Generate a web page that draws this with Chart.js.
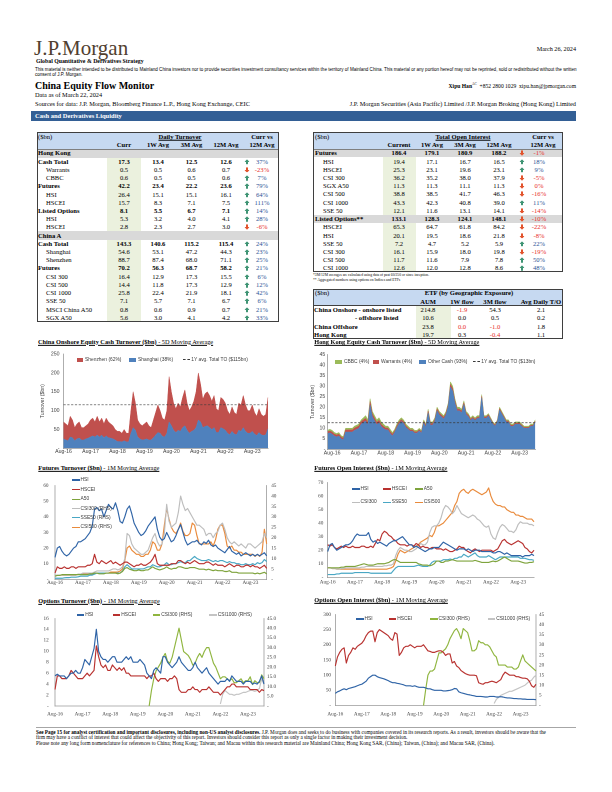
<!DOCTYPE html>
<html><head><meta charset="utf-8">
<script src="https://cdn.jsdelivr.net/npm/chart.js@4.4.1/dist/chart.umd.min.js"></script>
<style>
html,body{margin:0;padding:0;background:#fff}
body{width:612px;height:792px;position:relative;overflow:hidden;font-family:"Liberation Serif","Times New Roman",serif;color:#000}
.a{position:absolute;white-space:nowrap;line-height:1}
.r{position:absolute;box-sizing:border-box}
.sans{font-family:"Liberation Sans",Arial,sans-serif}
</style></head><body>
<script>
// ---------------- categories ----------------
const monthNames=['Jan','Feb','Mar','Apr','May','Jun','Jul','Aug','Sep','Oct','Nov','Dec'];
function monthLabels(startMonth,startYear,count){const out=[];for(let i=0;i<count;i++){const m=(startMonth+i)%12,y=startYear+Math.floor((startMonth+i)/12);out.push(monthNames[m]+'-'+String(y).padStart(2,'0'));}return out;}
const months=monthLabels(7,16,92);     // Aug-16 .. Mar-24
const hkMonths=monthLabels(5,16,94);   // Jun-16 .. Mar-24

// ---------------- table data ----------------
const turnLabels=['Hong Kong','Cash Total','Warrants','CBBC','Futures','HSI','HSCEI','Listed Options','HSI','HSCEI','China A','Cash Total','Shanghai','Shenzhen','Futures','CSI 300','CSI 500','CSI 1000','SSE 50','MSCI China A50','SGX A50'];
const turnKind=['s','b','i','i','b','i','i','b','i','i','s','b','i','i','b','i','i','i','i','i','i'];
const turnCurr=[null,17.3,0.5,0.6,42.2,26.4,15.7,8.1,5.3,2.8,null,143.3,54.6,88.7,70.2,16.4,14.4,25.8,7.1,0.8,5.6];
const turn1W=[null,13.4,0.5,0.5,23.4,15.1,8.3,5.5,3.2,2.3,null,140.6,53.1,87.4,56.3,12.9,11.8,22.4,5.7,0.6,3.0];
const turn3M=[null,12.5,0.6,0.5,22.2,15.1,7.1,6.7,4.0,2.7,null,115.2,47.2,68.0,68.7,17.3,17.3,21.9,7.1,0.9,4.1];
const turn12M=[null,12.6,0.7,0.6,23.6,16.1,7.5,7.1,4.1,3.0,null,115.4,44.3,71.1,58.2,15.5,12.9,18.1,6.7,0.7,4.2];
const turnChg=[null,37,-23,7,79,64,111,14,28,-6,null,24,23,25,21,6,12,42,6,21,33];

const oiLabels=['Futures','HSI','HSCEI','CSI 300','SGX A50','CSI 500','CSI 1000','SSE 50','Listed Options**','HSCEI','HSI','SSE 50','CSI 300','CSI 500','CSI 1000'];
const oiKind=['s','i','i','i','i','i','i','i','s','i','i','i','i','i','i'];
const oiCurr=[186.4,19.4,25.3,36.2,11.3,38.8,43.3,12.1,133.1,65.3,20.1,7.2,16.1,11.7,12.6];
const oi1W=[179.1,17.1,23.1,35.2,11.3,38.5,42.3,11.6,128.3,64.7,19.5,4.7,15.9,11.6,12.0];
const oi3M=[180.9,16.7,19.6,38.0,11.1,41.7,40.8,13.1,124.1,61.8,18.6,5.2,18.0,7.9,12.8];
const oi12M=[188.2,16.5,23.1,37.9,11.3,46.3,39.0,14.1,148.1,84.2,21.8,5.9,19.8,7.8,8.6];
const oiChg=[-1,18,9,-5,-0.2,-16,11,-14,-10,-22,-8,22,-19,50,48];

const etfLabels=['China Onshore - onshore listed','- offshore listed','China Offshore','Hong Kong'];
const etfAUM=[214.8,10.6,23.8,19.7];
const etf1W=[-1.9,0.0,-0.02,0.3];
const etf3M=[54.3,0.5,-1.0,-0.4];
const etfTO=[2.1,0.2,1.8,1.1];

// ---------------- chart data ----------------
const cnAvgTO=115.4, hkAvgTO=12.6;
const cnShanghai=[25,22,20,30,28,20,25,27,22,22,25,27,
30,33,30,35,30,35,28,33,28,27,25,22,
18,18,17,20,17,17,40,55,48,30,25,22,
23,25,22,22,28,35,42,40,32,30,40,70,
60,48,42,48,45,55,60,48,40,45,48,55,
75,70,55,58,60,55,50,55,42,42,55,52,
48,40,36,45,38,36,48,45,55,45,40,40,
45,38,34,42,36,34,36,52];
const cnShenzhen=[45,43,40,55,47,35,40,43,33,33,35,38,
45,47,40,50,40,45,37,47,42,38,35,28,
27,27,23,30,23,23,60,95,72,45,40,38,
42,45,38,33,47,60,73,60,48,45,60,120,
90,72,63,72,65,80,95,72,60,65,77,95,
125,100,75,87,90,85,75,85,63,58,80,78,
72,60,54,65,57,54,72,70,85,70,60,60,
70,57,51,63,54,51,54,83];

const hkOther=[7.5,7.8,
7.2,6.3,5.9,6.3,5.0,4.5,8.2,8.2,8.2,8.2,9.0,9.5,
10.0,12.0,12.8,13.4,11.5,21.0,15.5,13.5,11.7,12.7,10.8,9.9,
9.2,9.2,7.5,6.4,8.0,10.3,12.2,13.2,12.3,10.4,9.5,8.6,
8.6,7.7,7.7,8.7,7.7,12.5,10.6,17.3,11.4,11.5,13.4,18.3,
16.3,15.4,14.4,16.4,20.2,29.6,27.6,21.9,18.2,18.3,17.3,21.3,
16.5,15.6,13.7,14.7,13.7,14.7,14.7,24.4,14.7,14.8,15.8,13.9,
12.0,11.0,13.0,18.6,16.7,14.8,12.9,12.9,10.9,10.9,11.9,11.9,
11.9,10.9,10.0,10.0,10.0,11.0,11.0,12.9];
const hkWarrants=[0.9,0.9,
1.0,0.9,0.9,0.9,0.8,0.8,1.0,1.0,1.0,1.0,1.1,1.1,
1.1,1.2,1.2,1.3,1.2,1.6,1.3,1.2,1.1,1.1,1.0,1.0,
0.9,0.9,0.9,0.8,0.7,0.8,0.9,0.9,0.8,0.7,0.7,0.6,
0.6,0.6,0.6,0.6,0.6,0.7,0.7,0.9,0.8,0.7,0.8,0.9,
0.9,0.8,0.8,0.8,0.9,1.2,1.2,1.0,0.9,0.8,0.8,0.8,
0.7,0.7,0.6,0.6,0.6,0.6,0.6,0.8,0.6,0.6,0.6,0.5,
0.5,0.5,0.5,0.7,0.6,0.6,0.5,0.5,0.5,0.5,0.5,0.5,
0.5,0.5,0.4,0.4,0.4,0.4,0.4,0.5];
const hkCBBC=[0.7,0.8,
0.8,0.8,0.7,0.8,0.7,0.7,0.8,0.8,0.8,0.8,0.9,0.9,
0.9,0.8,1.0,1.3,1.3,1.4,1.2,1.3,1.2,1.2,1.2,1.1,
0.9,0.9,1.1,0.8,0.8,0.9,0.9,0.9,0.9,0.9,0.8,0.8,
0.8,0.7,0.7,0.7,0.7,0.8,0.7,0.8,0.8,0.8,0.8,0.8,
0.8,0.8,0.8,0.8,0.9,1.2,1.2,1.1,0.9,0.9,0.9,0.9,
0.8,0.7,0.7,0.7,0.7,0.7,0.7,0.8,0.7,0.6,0.6,0.6,
0.5,0.5,0.5,0.7,0.7,0.6,0.6,0.6,0.6,0.6,0.6,0.6,
0.6,0.6,0.6,0.6,0.6,0.6,0.6,0.6];

const ftHSI=[14,20,21,18,16,15,16,18,20,21,24,24,
25,26,28,30,34,45,46,44,45,40,44,48,
46,45,49,44,37,36,40,45,47,42,36,33,
30,28,29,31,34,36,38,40,32,27,25,26,
30,27,24,25,28,32,35,30,25,22,23,24,
24,25,23,22,24,23,25,22,21,22,20,19,
18,17,19,21,18,17,16,17,15,16,17,16,
15,16,15,16,15,16,17,15];
const ftHSCEI=[4,8,7,7,8,7,7,8,8,7,8,8,
8,8,9,9,10,16,11,10,12,11,10,11,
12,10,11,10,9,10,11,11,10,9,8,9,
9,10,9,9,10,11,13,16,10,9,9,9,
9,9,10,10,10,12,12,11,10,11,10,11,
12,11,10,10,10,11,11,10,9,10,9,9,
9,8,9,10,9,8,9,9,8,8,9,9,
8,9,8,8,7,8,9,7];
const ftA50=[2,2.5,2.5,3,3,3,3,3,3,3,3,3,
3,3,3,3.5,3.5,4,4,3.5,3.5,3.5,4,4,
4,4,4,3.5,4,5,7,7.5,6.5,6,5.5,5.5,
6,5.5,5.5,6,6,7,8,7,6.5,6,6.5,7,
8,7,6.5,7,7,8,8,7.5,7,7,7.5,7.5,
7.5,7,6.5,6.5,6.5,6,6.5,6,5.5,6,5.5,5.5,
5.5,5,5,5.5,4.5,4.5,4.5,4,4,4,4,4,
4,4,3.5,4,3.5,4,4.5,3.5];
const ftCSI300=[2,2,2,2,2,2,2,2,2,2,2.5,2.5,
3,3,3,3,3,3.5,4,4,4,4,4,4,
4.5,5,5,4.5,5,6,10,22,21,17,15,14,
13,12,12,13,14,17,20,22,18,16,17,22,
36,28,25,26,27,32,40,36,33,34,32,30,
28,26,26,25,24,21,22,22,20,22,23,26,
27,24,20,18,17,18,17,16,17,16,15,17,
17,16,15,16,17,18,22,20];
const ftSSE50=[0.5,0.5,0.5,0.5,0.7,0.8,0.8,1,1,1,1.2,1.5,
1.5,1.5,1.5,2,2,2.5,3,3,3,3,3,3,
3,3,3,3,3,4,6,7,6,5,5,5,
5,5,5,5.5,6,6,7,6.5,6,6,6.5,7,
8,7,7,7.5,7.5,8,8.5,8,8,9,9,10,
11,10,9.5,9,9,9,9.5,9,8.5,9,8.5,9,
9,8.5,8,8.5,8,8,7.5,7.5,7,7,7.5,7,
7,7.5,7,8,7.5,8,9.5,8.5];
const ftCSI500=[2,2,2,2,2,2,2,2,2,2,2.5,2.5,
2.5,2.5,2.5,2.5,2.5,3,3,3,3,3,3,3,
3.5,3.5,3.5,3.5,4,5,9,15,16,14,13,12,
12,11,11,12,12,14,18,17,14,14,17,26,
34,29,25,23,22,24,27,23,21,21,22,27,
26,21,17,17,17,17,17,18,16,19,24,26,
26,22,16,15,16,14,14,13,13,12,12,12,
12,12,11,12,11,13,24,17];

const foHSI=[19,24,25,22,20,21,22,23,24,24,25,27,
30,32,31,31,31,31,33,28,26,27,25,26,
25,24,23,25,26,27,27,28,29,30,28,26,
24,24,22,23,22,21,20,19,20,21,21,22,
22,22,24,26,25,24,23,22,21,20,21,21,
21,20,21,20,19,20,20,20,19,19,19,19,
19,18,18,19,19,18,17,18,17,16,16,16,
16,16,15,16,16,16,17,16];
const foHSCEI=[24,23,24,22,21,22,23,22,23,22,22,23,
22,22,22,23,23,22,22,23,22,25,28,27,
32,34,33,31,30,28,27,25,24,24,24,23,
24,24,23,25,24,22,23,22,22,21,22,22,
21,21,21,20,21,20,19,19,20,21,23,22,
22,20,19,18,20,21,20,19,20,20,20,20,
20,19,20,21,24,27,28,26,25,24,25,26,
27,26,25,22,21,19,18,20];
const foA50=[7,7,7,7,7,7,7.5,7.5,8,8,8,8,
8,8.5,9,9.5,10,9.5,9,9,9,9.5,10,10,
10,10,10.5,11,12,13,13,12,11,11,11,11,
11,11,11,11,10,9.5,9,9,9,8.5,9,10,
12,12,11,11,12,12,12.5,13,12.5,12,12,12,
12,12,12,12,12,12.5,12,11.5,11,11,11,11,
11.5,12,11.5,12,13,14,15,14,13,12,12,12,
12,11.5,11,10.5,10.5,11,11,11.5];
const foCSI300=[7,7,6.5,6.5,6,6,6.5,6.5,7,7,7,7,
7,7,7,7.5,7.5,8,8,8,8,8,8,8,
8,8.5,8.5,9,9,10,16,20,22,21,20,20,
19,19,20,21,23,25,24,24,26,33,37,38,
38,40,44,50,53,52,50,47,49,53,50,47,
46,45,44,45,46,45,43,42,40,38,37,38,
32,29,28,33,37,39,38,36,34,34,33,35,
39,41,40,40,40,39,39,38];
const foSSE50=[2,2,2,2,2.5,2.5,3,3,3,3,3,3,
3.5,3.5,3.5,3.5,3.5,3.5,3.5,3,3,3,3,3,
3,3,3,3,3,5,7,8,8,8,8,8,
8,8,8,8.5,9,8.5,8,8,8,9,11,12,
12,12,12,13,13,13,13.5,13,14,14,15,15,
17,16,15,16,17,18,16,15,15,15,15,16,
15,14,13,14,15,15,15,15,15,15,15,15,
15,14,14,14,13.5,13,13,12.5];
const foCSI500=[7,7,6.5,6.5,6,6,6,6,6,6,6,6,
6,6,6,6,6,6,6,6,6,6,6,6,
6,6,6,6.5,7,8,12,17,20,19,18,19,
20,21,22,23,24,26,27,28,29,31,30,33,
38,38,39,40,42,44,46,48,53,56,62,64,
65,63,62,64,65,64,63,62,61,62,63,66,
60,56,54,53,53,52,52,50,49,48,48,46,
46,45,45,44,43,43,43,41];

const otHSI=[5.5,5.8,5.5,5.5,5.5,5.0,5.5,6,6,6.5,6,6,
7,8.5,8,7.5,9,10.5,14,10,9,8.5,8.5,8,
8.5,9,9,8,8,8,8.5,9,8.5,9,8,8,
8,8.5,8,7.5,6,5.5,5,6.5,7,6.5,6,9,
9,8,7.5,7,7.5,8,9,8,7.5,7,6.5,6.5,
7,8,7,6.5,6,6.5,7,6,5.5,5,4.5,4,
4.5,4.5,4.5,5,4.5,5.5,5,4.5,4.5,4.5,4,4.5,
4.5,4.5,4,4.2,4,4.5,5.5,4];
const otHSCEI=[3,5.5,5.5,5,5,5,5.5,6.5,6,5.5,5,5,
5,5.5,6,5.5,6,6.5,11,9,7.5,7,7.5,6.5,
6.5,7.5,7,6.5,7,6.5,7,6,6,5.5,5.5,5.5,
5.5,5.5,5.5,5.5,5,5.5,5.5,6,5,4.5,5,5,
5,4.5,5,5,5.5,5,3,2.5,2.5,2.5,3,3,
3.5,3,3,2.5,3,3,3,3.5,3,2.5,2.5,2.5,
2,2.5,3,3.5,3.5,4,4,3.5,3.5,3.5,3.5,3.5,
3.5,3,3,3,3,2.5,3,2.8];
const otCSI300=[null,null,null,null,null,null,null,null,null,null,null,null,
null,null,null,null,null,null,null,null,null,null,null,null,
null,null,null,null,null,null,null,null,null,null,null,null,
null,null,null,null,null,0,8,14,18,20,22,25,
27,23,22,25,30,35,40,34,28,27,26,24,
21,22,25,27,25,28,30,30,26,22,20,17,
14,15,15,14,13,14,12,12,13,14,12,13,
13,15,11,13,12,12,16,14];
const otCSI1000=[null,null,null,null,null,null,null,null,null,null,null,null,
null,null,null,null,null,null,null,null,null,null,null,null,
null,null,null,null,null,null,null,null,null,null,null,null,
null,null,null,null,null,null,null,null,null,null,null,null,
null,null,null,null,null,null,null,null,null,null,null,null,
null,null,null,null,null,null,null,null,null,null,null,null,
1,6,8,7,6,6,5.5,6,6,6.5,7,7,
7.5,8,8,7.5,8,9,14,11];

const ooHSI=[40,45,48,52,55,52,56,58,60,62,65,68,
70,75,80,90,95,100,100,95,92,90,88,85,
82,78,75,75,73,72,70,68,65,65,65,63,
65,62,60,60,60,58,55,55,52,50,50,50,
50,48,48,49,50,52,56,55,45,42,40,38,
36,35,33,32,30,30,30,29,28,28,30,30,
30,28,28,29,28,26,25,25,24,23,23,22,
22,21,21,20,20,20,20,19];
const ooHSCEI=[130,160,175,185,190,140,165,175,190,185,195,200,
205,215,230,240,245,245,210,240,250,245,240,235,
230,220,215,240,235,165,175,190,195,195,200,195,
190,195,195,195,200,190,180,178,175,175,178,180,
180,175,165,170,170,140,145,130,125,115,110,105,
102,100,100,100,98,75,72,70,75,75,78,80,
78,75,80,85,100,110,105,100,100,100,95,95,
92,90,90,88,80,65,60,70];
const ooCSI300=[null,null,null,null,null,null,null,null,null,null,null,null,
null,null,null,null,null,null,null,null,null,null,null,null,
null,null,null,null,null,null,null,null,null,null,null,null,
null,null,null,null,0,8,15,17,17,18,22,26,
26,27,28,30,33,35,37,38,36,33,38,37,
36,32,27,27,28,32,31,31,30,30,29,27,
25,24,20,20,20,20,19,19,19,18,18,19,
22,25,22,21,20,19,18,17];
const ooCSI1000=[null,null,null,null,null,null,null,null,null,null,null,null,
null,null,null,null,null,null,null,null,null,null,null,null,
null,null,null,null,null,null,null,null,null,null,null,null,
null,null,null,null,null,null,null,null,null,null,null,null,
null,null,null,null,null,null,null,null,null,null,null,null,
null,null,null,null,null,null,null,null,null,null,null,null,
1,3,4,5,5.5,6,6.5,7,7,7.5,8,8.5,
9,9.5,10,11,12,12.5,14,15];

// ---------------- helpers ----------------
function put(html,x,y,size,o={}){const d=document.createElement('div');d.className='a'+(o.sans?' sans':'');d.innerHTML=html;
 d.style.left=x+'px';d.style.top=y+'px';d.style.fontSize=size+'px';
 if(o.bold)d.style.fontWeight='bold';if(o.color)d.style.color=o.color;if(o.u)d.style.textDecoration='underline';
 const tx=o.al==='c'?'-50%':o.al==='r'?'-100%':'0';d.style.transform=`translate(${tx},-50%)`;
 document.body.appendChild(d);return d;}
function rect(x,y,w,h,bg,border){const d=document.createElement('div');d.className='r';
 Object.assign(d.style,{left:x+'px',top:y+'px',width:w+'px',height:h+'px',background:bg||'transparent'});
 if(border)d.style.border=border;document.body.appendChild(d);return d;}
function hline(x1,x2,y,c,w){rect(x1,y-w/2,x2-x1,w,c);}
function fit(el,target){const w=el.getBoundingClientRect().width;const fs=parseFloat(el.style.fontSize)*target/w;el.style.fontSize=fs+'px';return fs;}
function arrow(up){const col=up?'#3f9474':'#e2532c';
 const pts=up?'2.6,0 5.2,2.8 3.6,2.8 3.6,5.6 1.6,5.6 1.6,2.8 0,2.8':'2.6,5.6 5.2,2.8 3.6,2.8 3.6,0 1.6,0 1.6,2.8 0,2.8';
 return `<svg width="5.2" height="5.6" viewBox="0 0 5.2 5.6" style="display:block"><polygon points="${pts}" fill="${col}"/></svg>`;}
const POS='#2f5597',NEG='#e8302a';
function chg(v,ax,px,y,size){put(arrow(v>=0),ax,y,size,{al:'c'});put(Math.round(v)+'%',px,y,size,{al:'c',color:v<0?NEG:POS});}

// ---------------- header ----------------
put('J.P.Morgan',34,47.5,21,{color:'#51402f'});
put('March 26, 2024',576,49.3,6.2,{al:'r'});
put('Global Quantitative &amp; Derivatives Strategy',36,62.3,5.8,{bold:true});
const disc=put('This material is neither intended to be distributed to Mainland China investors nor to provide securities investment consultancy services within the territory of Mainland China. This material or any portion hereof may not be reprinted, sold or redistributed without the written',35,70.4,3.6,{sans:true});
const dfs=fit(disc,541);
put('consent of J.P. Morgan.',35,75.2,dfs,{sans:true});
put('China Equity Flow Monitor',35,85.8,10,{bold:true});
put('<b>Xipu Han</b><sup style="font-size:3.4px">AC</sup>&nbsp;&nbsp;+852 2800 1029&nbsp;&nbsp;xipu.han@jpmorgan.com',576,86,5.6,{al:'r'});
put('Data as of March 22, 2024',35,95,6.3);
put('Sources for data: J.P. Morgan, Bloomberg Finance L.P., Hong Kong Exchange, CEIC',35,103.8,6.3);
put('J.P. Morgan Securities (Asia Pacific) Limited /J.P. Morgan Broking (Hong Kong) Limited',576,103.8,6.3,{al:'r'});
rect(31,110.8,545,9.8,'#335f95');
put('Cash and Derivatives Liquidity',35,115.9,6.5,{bold:true,color:'#fff'});

// ---------------- left table: daily turnover ----------------
const TF=6.6;
(function(){
 const X=36.5,W=242,TOP=131.5,HB=149.3,R0=153.4,S=8.22;
 const bot=R0+S*(turnLabels.length-0.5);
 rect(X,TOP,W,HB-TOP,'#c6d9f1');
 turnLabels.forEach((l,i)=>{const yt=R0+S*i-S/2;
  if(turnKind[i]==='s')rect(X,yt,W,S,'#d9d9d9');else rect(107,yt,34,S,'#ebf1de');});
 hline(X,X+W,HB,'#7f7f7f',0.6);
 rect(X,TOP,W,bot-TOP,null,'0.9px solid #3f3f3f');
 put('($bn)',38,137,TF);
 put('Daily Turnover',180,137,TF,{bold:true,u:true,al:'c'});
 put('Curr vs',262,137,TF,{bold:true,al:'c'});
 [['Curr',124],['1W Avg',158],['3M Avg',191.5],['12M Avg',226],['12M Avg',262]].forEach(([t,x])=>put(t,x,145,TF,{bold:true,al:'c'}));
 const C=[124,158,191.5,226];
 turnLabels.forEach((l,i)=>{const y=R0+S*i,k=turnKind[i];
  put(l,k==='i'?46:38,y,TF,{bold:k!=='i'});
  if(turnCurr[i]==null)return;
  [turnCurr,turn1W,turn3M,turn12M].forEach((a,j)=>put(a[i].toFixed(1),C[j],y,TF,{bold:k!=='i',al:'c'}));
  chg(turnChg[i],247,262,y,TF);});
})();

// ---------------- right table: open interest ----------------
(function(){
 const X=313,W=250,TOP=131.5,HB=149.3,R0=153.3,S=8.22;
 const bot=R0+S*(oiLabels.length-0.5);
 rect(X,TOP,W,HB-TOP,'#c6d9f1');
 oiLabels.forEach((l,i)=>{const yt=R0+S*i-S/2;
  if(oiKind[i]==='s')rect(X,yt,W,S,'#d9d9d9');else rect(383,yt,33,S,'#ebf1de');});
 hline(X,X+W,HB,'#7f7f7f',0.6);
 rect(X,TOP,W,bot-TOP,null,'0.9px solid #3f3f3f');
 put('($bn)',315,137,TF);
 put('Total Open Interest',463,137,TF,{bold:true,u:true,al:'c'});
 put('Curr vs',543,137,TF,{bold:true,al:'c'});
 [['Current',399],['1W Avg',432],['3M Avg',465],['12M Avg',499],['12M Avg',543]].forEach(([t,x])=>put(t,x,145,TF,{bold:true,al:'c'}));
 const C=[399,432,465,499];
 oiLabels.forEach((l,i)=>{const y=R0+S*i,k=oiKind[i];
  put(l,k==='i'?323:315,y,TF,{bold:k==='s'});
  [oiCurr,oi1W,oi3M,oi12M].forEach((a,j)=>put(a[i].toFixed(1),C[j],y,TF,{bold:k==='s',al:'c'}));
  chg(oiChg[i],522,539,y,TF);});
 put('*3M/12M averages are calculated using data of past 60/250 or since inception.',313,276.3,3.7);
 put('** Aggregated numbers using options on Indices and ETFs',313,281,3.7);
})();

// ---------------- ETF table ----------------
(function(){
 const X=313,W=250,TOP=288.5,HB=305.5,R0=310.2,S=8.2;
 const bot=R0+S*(etfLabels.length-0.5);
 rect(X,TOP,W,HB-TOP,'#c6d9f1');
 rect(416,HB,35,bot-HB,'#ebf1de');
 hline(X,X+W,HB,'#404040',0.8);
 rect(X,TOP,W,bot-TOP,null,'0.9px solid #3f3f3f');
 put('($bn)',315,293,TF);
 put('ETF (by Geographic Exposure)',469,293,TF,{bold:true,al:'c'});
 [['AUM',428],['1W flow',462],['3M flow',495],['Avg Daily T/O',541]].forEach(([t,x])=>put(t,x,301.5,TF,{bold:true,al:'c'}));
 const fmt=v=>Math.abs(v)<0.05?'0.0':v.toFixed(1);
 etfLabels.forEach((l,i)=>{const y=R0+S*i;
  put(l,i===1?355:314,y,TF,{bold:true});
  put(fmt(etfAUM[i]),428,y,TF,{al:'c'});
  put(fmt(etf1W[i]),462,y,TF,{al:'c',color:etf1W[i]<0?NEG:'#000'});
  put(fmt(etf3M[i]),495,y,TF,{al:'c',color:etf3M[i]<0?NEG:'#000'});
  put(fmt(etfTO[i]),541,y,TF,{al:'c'});});
})();

// ---------------- charts ----------------
const SANS='"Liberation Sans", Arial, sans-serif', SERIF='"Liberation Serif", "Times New Roman", serif';
Chart.defaults.font.family=SANS;Chart.defaults.color='#404040';
Chart.register({id:'avgLine',afterDatasetsDraw(chart,args,opts){
 if(!opts||opts.value==null)return;const a=chart.chartArea,ctx=chart.ctx,y=chart.scales.y.getPixelForValue(opts.value);
 ctx.save();ctx.strokeStyle='#3a3a3a';ctx.lineWidth=0.7;ctx.setLineDash([2.2,1.6]);
 ctx.beginPath();ctx.moveTo(a.left,y);ctx.lineTo(a.right,y);ctx.stroke();ctx.restore();}});

function xAxis(pad,fam){return {type:'category',offset:false,grid:{display:false,drawTicks:false},
 border:{display:true,color:'#9a9a9a',width:0.8},
 ticks:{autoSkip:false,maxRotation:0,minRotation:0,padding:pad,font:{size:5.2,family:fam},color:'#404040',
  callback:function(v){const l=this.getLabelForValue(v);return l.startsWith('Aug')?l:null;}}};}
function yAxis(pos,max,step,pad,fam,fmt,ttl){const o={type:'linear',position:pos,min:0,max:max,
 grid:{display:false,drawTicks:false},border:{display:true,color:'#9a9a9a',width:0.8},
 ticks:{stepSize:step,padding:pad,font:{size:5.2,family:fam},color:'#404040',callback:v=>v===0?'-':(fmt?fmt(v):v)}};
 if(ttl)o.title={display:true,text:ttl,font:{size:5.2,family:fam},color:'#404040',padding:{top:2,bottom:2}};return o;}
function ln(label,data,color,axis){return {label,data,borderColor:color,backgroundColor:color,borderWidth:1.15,pointRadius:0,tension:0,fill:false,yAxisID:axis||'y',borderJoinStyle:'round'};}
function area(label,data,color,fill){return {label,data,borderColor:color,backgroundColor:color,borderWidth:0.5,pointRadius:0,tension:0,fill:fill};}

function makeChart(g,datasets,scales,labels,avg){
 const yRW=g.yRW||0;
 const left=Math.floor(g.L-g.yLW),top=Math.floor(g.T-g.pt);
 const width=Math.ceil(g.R+yRW+g.pr-left),height=Math.ceil(g.B+g.xH-top);
 const padL=(g.L-g.yLW)-left,padT=g.T-top,padR=left+width-(g.R+yRW),xH=top+height-g.B;
 const c=document.createElement('canvas');c.width=width;c.height=height;
 c.style.cssText=`position:absolute;left:${left}px;top:${top}px;width:${width}px;height:${height}px`;
 document.body.appendChild(c);
 scales.x.afterFit=s=>{s.height=xH;};
 scales.y.afterFit=s=>{s.width=g.yLW;};
 if(scales.y1)scales.y1.afterFit=s=>{s.width=yRW;};
 return new Chart(c,{type:'line',data:{labels,datasets},options:{responsive:false,animation:false,devicePixelRatio:2,
  layout:{padding:{left:padL,top:padT,right:padR,bottom:0}},
  plugins:{legend:{display:false},tooltip:{enabled:false},avgLine:avg||{}},scales}});
}

// titles & legends
function title(b,rest,x,y){put(`<b>${b}</b> - ${rest}`,x,y,6.3,{u:true});}
const LF=4.9;
function legBox(bx,y,col,tx,text){rect(bx,y-2.2,6.4,4.4,col);put(text,tx,y,LF,{sans:true,color:'#404040'});}
function legLine(lx,y,col,text,dash){const d=rect(lx,y-0.6,7.5,1.2,dash?'transparent':col);if(dash){d.style.borderTop='0.8px dashed #3a3a3a';d.style.height='0px';}
 put(text,lx+8.5,y,LF,{sans:true,color:'#404040'});}

const C_HSI='#2e63a6',C_HSCEI='#b8312f',C_A50='#7ea33c',C_300='#bdbdbd',C_SSE='#49a7c4',C_500='#e98a3b',C_O300='#8fb53f',C_O1000='#c4c4c4';

// Chart 1: China onshore cash turnover
title('China Onshore Equity Cash Turnover ($bn)','5D Moving Average',38,341.7);
const s1=yAxis('left',250,50,4,SANS,null,'Turnover ($bn)');s1.stacked=true;
makeChart({L:63.5,R:268,T:352.3,B:448.3,yLW:26,pt:5,pr:5,xH:9},
 [area('Shanghai (38%)',cnShanghai,'#4f81bd','origin'),area('Shenzhen (62%)',cnShenzhen,'#c0504d','-1')],
 {x:xAxis(0.4,SANS),y:s1},months,{value:cnAvgTO});
legBox(76.7,360,'#c0504d',85,'Shenzhen (62%)');
legBox(129.3,360,'#4f81bd',138,'Shanghai (38%)');
legLine(182.7,360,'#3a3a3a','1Y avg. Total TO ($115bn)',true);

// Chart 2: HK cash turnover
title('Hong Kong Equity Cash Turnover ($bn)','5D Moving Average',314.3,342.3);
const s2=yAxis('left',45,5,2.4,SANS,null,'Turnover ($bn)');s2.stacked=true;
makeChart({L:327.7,R:535.3,T:354.3,B:449.3,yLW:20,pt:5,pr:6,xH:9},
 [area('Other Cash (93%)',hkOther,'#4f81bd','origin'),area('Warrants (4%)',hkWarrants,'#c0504d','-1'),area('CBBC (4%)',hkCBBC,'#9bbb59','-1')],
 {x:xAxis(0.5,SANS),y:s2},hkMonths,{value:hkAvgTO});
legBox(335.3,361.7,'#9bbb59',344,'CBBC (4%)');
legBox(372.7,361.7,'#c0504d',381,'Warrants (4%)');
legBox(419.3,361.7,'#4f81bd',428,'Other Cash (93%)');
legLine(472.7,361.7,'#3a3a3a','1Y avg. Total TO ($13bn)',true);

// Chart 3: futures turnover
title('Futures Turnover ($bn)','1M Moving Average',38.3,468.3);
makeChart({L:55,R:266.7,T:481,B:579.3,yLW:17,yRW:16,pt:5,pr:2,xH:9},
 [ln('HSI',ftHSI,C_HSI),ln('HSCEI',ftHSCEI,C_HSCEI),ln('A50',ftA50,C_A50),
  ln('CSI300 (RHS)',ftCSI300,C_300,'y1'),ln('SSE50 (RHS)',ftSSE50,C_SSE,'y1'),ln('CSI500 (RHS)',ftCSI500,C_500,'y1')],
 {x:xAxis(0.3,SERIF),y:yAxis('left',60,10,6.5,SERIF),y1:yAxis('right',45,5,4.5,SERIF)},months);
[['HSI',C_HSI,480],['HSCEI',C_HSCEI,489.5],['A50',C_A50,499.3],['CSI300 (RHS)',C_300,508.7],['SSE50 (RHS)',C_SSE,517.9],['CSI500 (RHS)',C_500,527.3]]
 .forEach(([t,c,y])=>legLine(72,y,c,t));

// Chart 4: futures open interest
title('Futures Open Interest ($bn)','1M Moving Average',314.3,468.3);
makeChart({L:327.7,R:534,T:480.7,B:577.3,yLW:14,pt:5,pr:6,xH:10},
 [ln('HSI',foHSI,C_HSI),ln('HSCEI',foHSCEI,C_HSCEI),ln('A50',foA50,C_A50),
  ln('CSI300',foCSI300,C_300),ln('SSE50',foSSE50,C_SSE),ln('CSI500',foCSI500,C_500)],
 {x:xAxis(1.8,SERIF),y:yAxis('left',70,10,4.4,SERIF)},months);
[['HSI',C_HSI,352,489],['HSCEI',C_HSCEI,383.3,489],['A50',C_A50,415.3,489],
 ['CSI300',C_300,352,502.3],['SSE50',C_SSE,383.3,502.3],['CSI500',C_500,415.3,502.3]]
 .forEach(([t,c,x,y])=>legLine(x,y,c,t));

// Chart 5: options turnover
title('Options Turnover ($bn)','1M Moving Average',38.3,600.7);
makeChart({L:55,R:264,T:614.3,B:706,yLW:17,yRW:18,pt:5,pr:2,xH:13},
 [ln('HSI',otHSI,C_HSI),ln('HSCEI',otHSCEI,C_HSCEI),ln('CSI300 (RHS)',otCSI300,C_O300,'y1'),ln('CSI1000 (RHS)',otCSI1000,C_O1000,'y1')],
 {x:xAxis(5.2,SERIF),y:yAxis('left',16,2,6.3,SERIF),y1:yAxis('right',45,5,3,SERIF,v=>v.toFixed(1))},months);
[['HSI',C_HSI,76.7],['HSCEI',C_HSCEI,112.7],['CSI300 (RHS)',C_O300,152.7],['CSI1000 (RHS)',C_O1000,209.3]]
 .forEach(([t,c,x])=>legLine(x,615,c,t));

// Chart 6: options open interest
title('Options Open Interest ($bn)','1M Moving Average',314.3,600);
makeChart({L:335.3,R:536,T:612,B:705.5,yLW:20,yRW:14,pt:5,pr:2,xH:13},
 [ln('HSI',ooHSI,C_HSI),ln('HSCEI',ooHSCEI,C_HSCEI),ln('CSI300 (RHS)',ooCSI300,C_O300,'y1'),ln('CSI1000 (RHS)',ooCSI1000,C_O1000,'y1')],
 {x:xAxis(5.7,SERIF),y:yAxis('left',300,50,4.3,SERIF),y1:yAxis('right',45,5,3,SERIF)},months);
[['HSI',C_HSI,356],['HSCEI',C_HSCEI,388.7],['CSI300 (RHS)',C_O300,430],['CSI1000 (RHS)',C_O1000,487.7]]
 .forEach(([t,c,x])=>legLine(x,619,c,t));

// ---------------- footer ----------------
hline(36,576,727.7,'#a6a6a6',1);
const f1=put('<b>See Page 15 for analyst certification and important disclosures, including non-US analyst disclosures.</b> J.P. Morgan does and seeks to do business with companies covered in its research reports. As a result, investors should be aware that the',36,732.7,5);
const ffs=fit(f1,511);
put('firm may have a conflict of interest that could affect the objectivity of this report. Investors should consider this report as only a single factor in making their investment decision.',36,738.3,ffs);
put('Please note any long form nomenclature for references to China; Hong Kong; Taiwan; and Macau within this research material are Mainland China; Hong Kong SAR, (China); Taiwan, (China); and Macau SAR, (China).',36,744,ffs);
</script>
</body></html>
